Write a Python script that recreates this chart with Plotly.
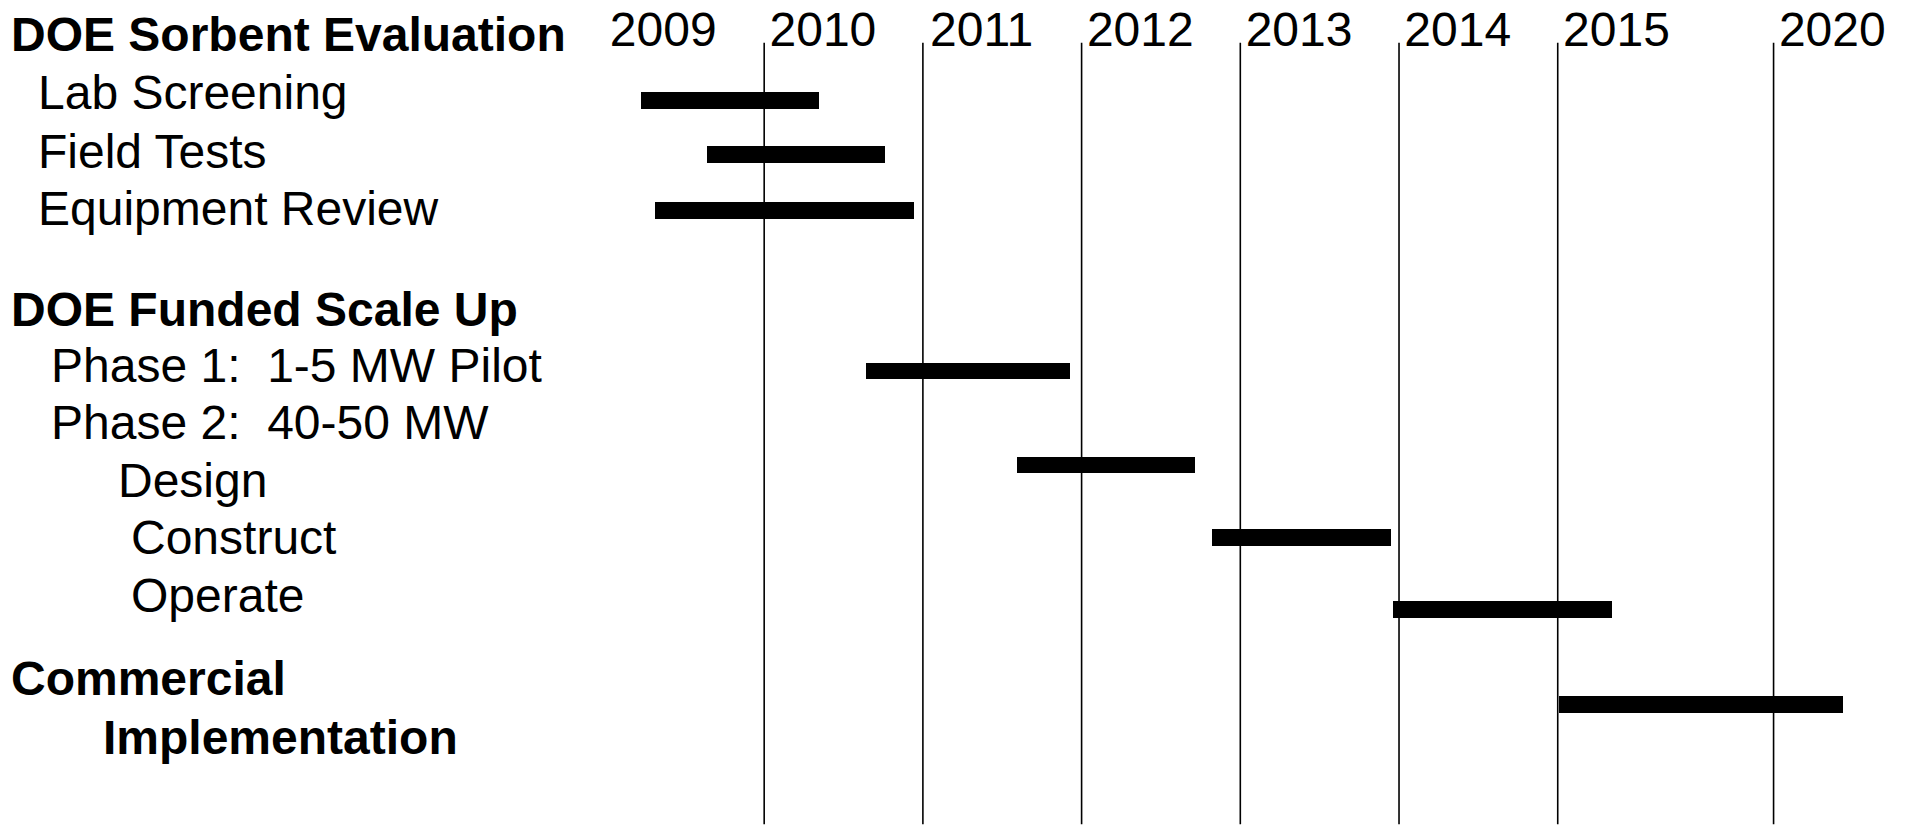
import plotly.graph_objects as go

# ---- data ----
years = ["2009", "2010", "2011", "2012", "2013", "2014", "2015", "2020"]
year_start = [0.0, 1.0, 2.0, 3.0, 4.0, 5.0, 6.0, 7.36]   # timeline units (2015->2020 compressed)

row_labels = ["DOE Sorbent Evaluation", "Lab Screening", "Field Tests", "Equipment Review",
              "DOE Funded Scale Up", "Phase 1:  1-5 MW Pilot", "Phase 2:  40-50 MW",
              "Design", "Construct", "Operate", "Commercial", "Implementation"]
row_pos = [0.0, 1.01, 2.03, 3.02, 4.77, 5.74, 6.73, 7.74, 8.73, 9.73, 11.18, 12.19]
row_bold = [True, False, False, False, True, False, False, False, False, False, True, True]

tasks = ["Lab Screening", "Field Tests", "Equipment Review", "Phase 1", "Design",
         "Construct", "Operate", "Commercial Implementation"]
task_start = [0.224, 0.64, 0.31, 1.644, 2.594, 3.821, 4.963, 6.006]
task_end = [1.345, 1.76, 1.944, 2.924, 3.714, 4.948, 6.344, 7.80]
task_row = [1.155, 2.09, 3.06, 5.84, 7.47, 8.73, 9.98, 11.62]

# ---- styles / layout ----
W, H = 1908, 832
FONT = "Liberation Sans, Arial, sans-serif"
FS = 48
label_indent_px = [10, 37, 37, 37, 10, 50, 50, 117, 130, 130, 10, 102]
year_label_offset = 0.37
grid_top, grid_bottom = 0.15, 13.7

fig = go.Figure()

# vertical year gridlines
gx, gy = [], []
for s in year_start[1:]:
    gx += [s, s, None]
    gy += [grid_top, grid_bottom, None]
fig.add_trace(go.Scatter(x=gx, y=gy, mode="lines",
                         line=dict(color="black", width=1.6),
                         hoverinfo="skip", showlegend=False))

# task bars
fig.add_trace(go.Bar(
    y=task_row,
    x=[e - s for s, e in zip(task_start, task_end)],
    base=task_start,
    orientation="h",
    width=0.29,
    marker=dict(color="black", line=dict(width=0)),
    text=tasks, textposition="none",
    hovertemplate="%{text}<extra></extra>",
    showlegend=False,
))

# year labels
fig.add_trace(go.Scatter(
    x=[s + (0.364 if i == 0 else year_label_offset) for i, s in enumerate(year_start)],
    y=[0.0] * len(years),
    mode="text", text=years, textposition="middle center",
    textfont=dict(family=FONT, size=FS, color="black"),
    hoverinfo="skip", showlegend=False,
))

# row labels
for lab, r, b, px in zip(row_labels, row_pos, row_bold, label_indent_px):
    fig.add_annotation(
        x=px / W, xref="paper", xanchor="left",
        y=r, yref="y", yanchor="middle",
        text=f"<b>{lab}</b>" if b else lab,
        showarrow=False, borderpad=0,
        font=dict(family=FONT, size=FS, color="black"),
    )

fig.update_layout(
    width=W, height=H,
    margin=dict(l=0, r=0, t=0, b=0),
    paper_bgcolor="white", plot_bgcolor="white",
    bargap=0,
    xaxis=dict(range=[-3.815, 8.207], visible=False, fixedrange=True),
    yaxis=dict(range=[13.833, -0.591], visible=False, fixedrange=True),
)

fig.write_html("out.html", config={"displayModeBar": False},
               post_script="document.body.style.margin='0';document.body.style.overflow='hidden';")
